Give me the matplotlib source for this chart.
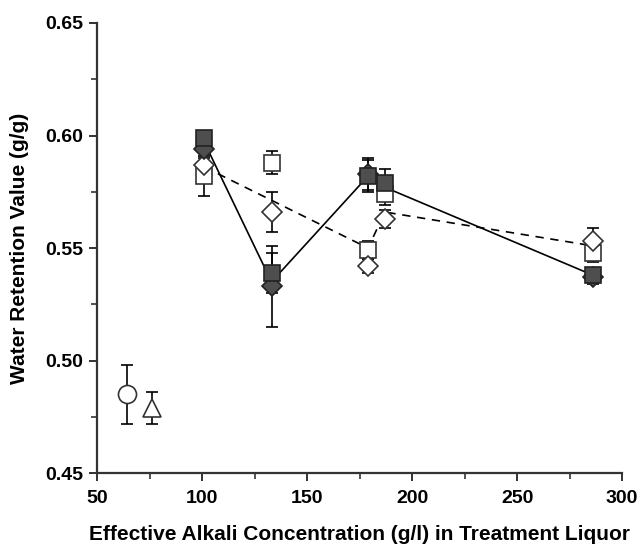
import matplotlib.pyplot as plt
from matplotlib.ticker import MultipleLocator

plt.rcParams["font.family"] = ["Liberation Sans", "DejaVu Sans"]
plt.rcParams["font.weight"] = "bold"

# filled squares (solid line)
sqf_x = [101, 133, 179, 187, 286]
sqf_y = [0.599, 0.539, 0.582, 0.579, 0.538]
sqf_e = [0.003, 0.009, 0.007, 0.006, 0.003]

# filled diamonds
dif_x = [101, 133, 179, 286]
dif_y = [0.594, 0.533, 0.583, 0.537]
dif_e = [0.004, 0.018, 0.007, 0.003]

# open squares
sqo_x = [101, 133, 179, 187, 286]
sqo_y = [0.582, 0.588, 0.549, 0.574, 0.548]
sqo_e = [0.009, 0.005, 0.004, 0.005, 0.004]

# open diamonds
dio_x = [101, 133, 179, 187, 286]
dio_y = [0.587, 0.566, 0.542, 0.563, 0.553]
dio_e = [0.006, 0.009, 0.003, 0.004, 0.006]

# trend lines
solid_x = [101, 133, 179, 187, 286]
solid_y = [0.597, 0.535, 0.582, 0.577, 0.538]
dash_x = [101, 179, 187, 286]
dash_y = [0.586, 0.550, 0.566, 0.551]

# untreated references
circ_x, circ_y, circ_e = [64], [0.485], [0.013]
tri_x, tri_y, tri_e = [76], [0.479], [0.007]

fig = plt.figure(figsize=(6.4, 5.47), dpi=100)
ax = fig.add_axes([0.152, 0.135, 0.82, 0.823])

ax.plot(solid_x, solid_y, "-", color="black", lw=1.2, zorder=2)
ax.plot(dash_x, dash_y, "--", color="black", lw=1.2, dashes=(5, 4), zorder=2)

eb = dict(ls="none", ecolor="black", elinewidth=1.2, capsize=4, capthick=1.2, zorder=3)
ax.errorbar(sqo_x, sqo_y, yerr=sqo_e, marker="s", ms=11.5, mfc="white", mec="#333333", mew=1.2, **eb)
ax.errorbar(dio_x, dio_y, yerr=dio_e, marker="D", ms=10, mfc="white", mec="#333333", mew=1.2, **eb)
ax.errorbar(dif_x, dif_y, yerr=dif_e, marker="D", ms=10, mfc="#4e4e4e", mec="#222222", mew=1.2, **eb)
ax.errorbar(sqf_x, sqf_y, yerr=sqf_e, marker="s", ms=11.5, mfc="#4e4e4e", mec="#222222", mew=1.2, **eb)
ax.errorbar(circ_x, circ_y, yerr=circ_e, marker="o", ms=13, mfc="white", mec="#333333", mew=1.2, **eb)
ax.errorbar(tri_x, tri_y, yerr=tri_e, marker="^", ms=13, mfc="white", mec="#333333", mew=1.2, **eb)

ax.set_xlim(50, 300)
ax.set_ylim(0.45, 0.65)
ax.xaxis.set_major_locator(MultipleLocator(50))
ax.xaxis.set_minor_locator(MultipleLocator(25))
ax.yaxis.set_major_locator(MultipleLocator(0.05))
ax.yaxis.set_minor_locator(MultipleLocator(0.025))
ax.yaxis.set_major_formatter(plt.FormatStrFormatter("%.2f"))

for s in ["top", "right"]:
    ax.spines[s].set_visible(False)
for s in ["left", "bottom"]:
    ax.spines[s].set_linewidth(1.6)
    ax.spines[s].set_color("#333333")

ax.tick_params(which="major", direction="out", length=6, width=1.4, labelsize=14, color="#333333")
ax.tick_params(axis="x", which="major", pad=6)
ax.tick_params(axis="y", which="major", pad=4)
ax.tick_params(which="minor", direction="out", length=4.3, width=1.2, color="#333333")
for lab in ax.get_xticklabels() + ax.get_yticklabels():
    lab.set_fontweight("bold")

ax.set_xlabel("Effective Alkali Concentration (g/l) in Treatment Liquor", fontsize=15, fontweight="bold", labelpad=13)
ax.set_ylabel("Water Retention Value (g/g)", fontsize=15, fontweight="bold", labelpad=12)

fig.savefig("out.png", dpi=100)
